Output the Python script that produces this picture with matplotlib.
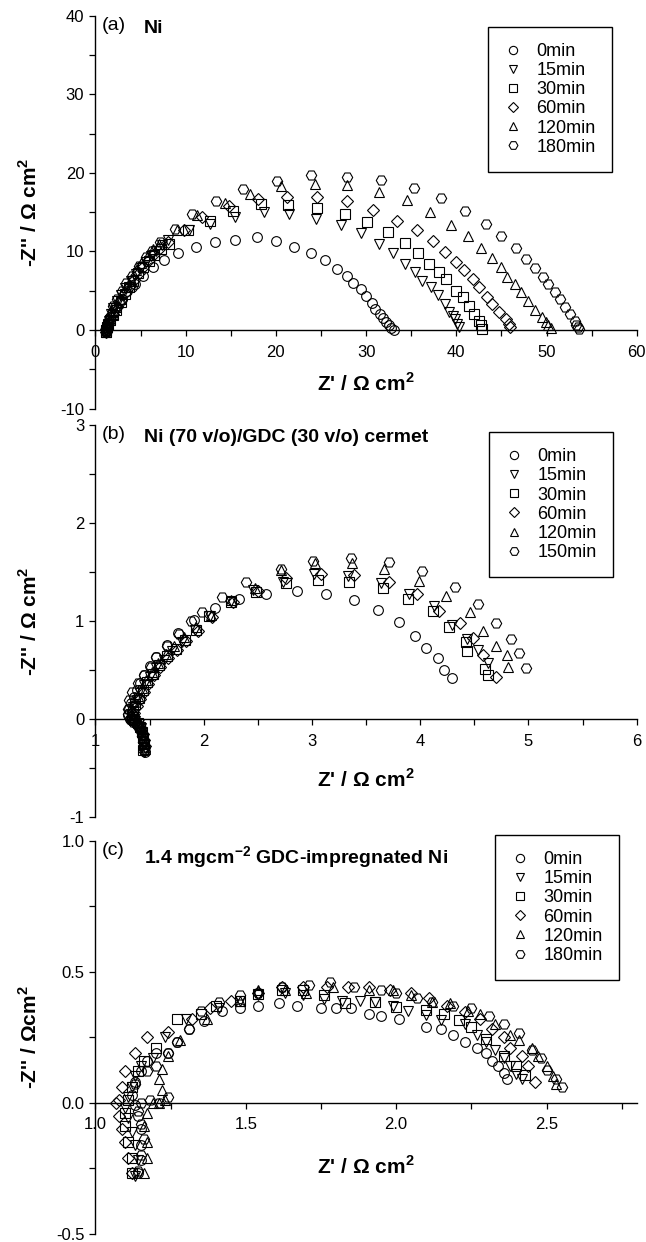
import numpy as np
import matplotlib
matplotlib.use('Agg')
import matplotlib.pyplot as plt
from matplotlib.ticker import MultipleLocator

# ---------------------------------------------------------------------
# data

labels_a = ['0min', '15min', '30min', '60min', '120min', '180min']
labels_b = ['0min', '15min', '30min', '60min', '120min', '150min']
labels_c = ['0min', '15min', '30min', '60min', '120min', '180min']

# (a) Ni
a_x_0 = [1.15, 1.18, 1.2, 1.25, 1.3, 1.4, 1.6, 1.9, 2.2, 2.6, 2.9, 3.5, 4.0, 4.4, 5.3, 6.4, 7.6, 9.2,
         11.2, 13.3, 15.5, 17.9, 20.0, 22.0, 23.9, 25.4, 26.8, 27.9, 28.6, 29.4, 30.0, 30.6, 31.0,
         31.5, 31.9, 32.2, 32.5, 32.8, 33.1]
a_y_0 = [-0.3, -0.1, 0.1, 0.3, 0.55, 0.9, 1.6, 2.3, 2.9, 3.5, 4.0, 5.0, 5.5, 5.9, 6.9, 8.0, 8.85, 9.8,
         10.6, 11.2, 11.5, 11.8, 11.3, 10.6, 9.8, 8.9, 7.8, 6.9, 6.0, 5.2, 4.3, 3.5, 2.7,
         2.0, 1.5, 1.0, 0.6, 0.3, 0.05]
a_x_15 = [1.15, 1.2, 1.25, 1.35, 1.5, 1.7, 2.0, 2.4, 2.8, 3.3, 3.9, 4.5, 5.0, 5.6, 6.2, 6.7, 7.4, 8.1,
          10.4, 12.75, 15.5, 18.7, 21.45, 24.4, 27.2, 29.4, 31.4, 33.0, 34.3, 35.4, 36.2, 37.2, 38.0,
          38.7, 39.2, 39.6, 39.8, 40.1, 40.3]
a_y_15 = [-0.25, 0.0, 0.3, 0.7, 1.2, 2.0, 2.8, 3.7, 4.5, 5.4, 6.3, 7.1, 7.9, 8.6, 9.4, 10.1, 10.8, 11.4,
          12.7, 13.5, 14.4, 15.0, 14.8, 14.15, 13.3, 12.3, 11.0, 9.8, 8.4, 7.36, 6.3, 5.45, 4.4,
          3.3, 2.3, 1.8, 1.4, 0.8, 0.36]
a_x_30 = [1.15, 1.2, 1.3, 1.45, 1.6, 1.9, 2.3, 2.8, 3.25, 3.7, 4.2, 4.7, 5.3, 5.9, 6.5, 7.3, 8.2,
          10.3, 12.75, 15.3, 18.3, 21.4, 24.6, 27.7, 30.1, 32.4, 34.3, 35.8, 37.0, 38.1, 38.9,
          40.0, 40.7, 41.4, 42.0, 42.5, 42.7, 42.9]
a_y_30 = [-0.2, 0.05, 0.4, 0.8, 1.3, 1.9, 2.5, 3.6, 4.6, 5.5, 6.3, 7.2, 8.0, 8.8, 9.5, 10.3, 11.0,
          12.7, 13.9, 15.1, 16.05, 15.85, 15.55, 14.7, 13.7, 12.45, 11.1, 9.8, 8.4, 7.4, 6.5,
          5.0, 4.2, 3.1, 2.06, 1.2, 0.6, 0.15]
a_x_60 = [1.15, 1.2, 1.3, 1.45, 1.65, 1.95, 2.35, 2.8, 3.3, 3.8, 4.3, 4.8, 5.3, 5.9, 6.5, 7.2, 8.0,
          9.8, 11.8, 14.8, 18.05, 21.2, 24.6, 27.9, 30.8, 33.4, 35.6, 37.4, 38.8, 40.0, 40.9, 41.8,
          42.5, 43.4, 44.0, 44.7, 45.5, 45.8, 46.0]
a_y_60 = [-0.2, 0.1, 0.45, 0.9, 1.4, 2.1, 2.9, 3.8, 4.7, 5.6, 6.4, 7.2, 8.0, 8.9, 9.7, 10.5, 11.2,
          12.7, 14.4, 15.8, 16.7, 16.9, 16.9, 16.4, 15.3, 13.9, 12.7, 11.3, 9.9, 8.6, 7.6, 6.5,
          5.45, 4.2, 3.3, 2.3, 1.4, 0.8, 0.36]
a_x_120 = [1.15, 1.2, 1.3, 1.4, 1.6, 1.9, 2.3, 2.8, 3.4, 3.9, 4.5, 5.1, 5.8, 6.4, 7.1, 9.0,
           11.3, 14.4, 17.1, 20.6, 24.3, 27.9, 31.4, 34.5, 37.1, 39.4, 41.3, 42.7, 43.9, 44.9, 45.6,
           46.5, 47.2, 48.0, 48.7, 49.5, 49.9, 50.2, 50.5]
a_y_120 = [-0.25, 0.05, 0.4, 0.8, 1.3, 2.1, 2.9, 3.9, 5.5, 6.5, 7.6, 8.5, 9.5, 10.3, 11.0, 12.7,
           14.6, 16.1, 17.3, 18.3, 18.6, 18.4, 17.5, 16.5, 15.0, 13.4, 11.9, 10.5, 9.2, 8.0, 6.8,
           5.9, 4.8, 3.7, 2.5, 1.6, 1.0, 0.6, 0.3]
a_x_180 = [1.15, 1.2, 1.3, 1.4, 1.6, 1.95, 2.4, 2.9, 3.4, 4.0, 4.8, 5.6, 6.3, 7.16, 8.8, 10.7,
           13.4, 16.4, 20.1, 23.9, 27.9, 31.6, 35.3, 38.3, 41.0, 43.3, 45.0, 46.6, 47.7, 48.7, 49.6,
           50.2, 50.9, 51.5, 52.0, 52.6, 53.1, 53.3, 53.5, 53.6]
a_y_180 = [-0.3, 0.0, 0.5, 1.0, 1.6, 3.1, 4.0, 5.0, 6.0, 6.9, 8.1, 9.3, 10.1, 11.2, 12.8, 14.7,
           16.4, 17.96, 19.0, 19.7, 19.5, 19.1, 18.1, 16.8, 15.1, 13.5, 11.9, 10.4, 9.1, 7.9, 6.7,
           5.9, 4.8, 4.0, 2.9, 2.06, 1.2, 0.7, 0.36, 0.1]

# (b) Ni/GDC cermet
b_x_0 = [1.46, 1.46, 1.45, 1.44, 1.43, 1.41, 1.38, 1.35, 1.32, 1.30, 1.31, 1.33, 1.36, 1.38, 1.41,
         1.45, 1.50, 1.56, 1.66, 1.76, 1.91, 2.10, 2.33, 2.58, 2.86, 3.13, 3.39, 3.61, 3.80, 3.95,
         4.05, 4.16, 4.22, 4.29]
b_y_0 = [-0.33, -0.28, -0.22, -0.16, -0.11, -0.07, -0.04, -0.02, 0.0, 0.04, 0.1, 0.16, 0.23, 0.3,
         0.37, 0.45, 0.54, 0.63, 0.76, 0.88, 1.01, 1.13, 1.22, 1.28, 1.31, 1.28, 1.21, 1.11, 0.99,
         0.85, 0.73, 0.62, 0.50, 0.42]
b_x_15 = [1.45, 1.45, 1.44, 1.43, 1.42, 1.40, 1.37, 1.34, 1.33, 1.35, 1.38, 1.41, 1.45, 1.50, 1.56,
          1.63, 1.71, 1.80, 1.92, 2.06, 2.25, 2.46, 2.73, 3.02, 3.33, 3.64, 3.90, 4.13, 4.29, 4.43,
          4.53, 4.63]
b_y_15 = [-0.32, -0.26, -0.2, -0.14, -0.09, -0.05, -0.02, 0.0, 0.05, 0.12, 0.2, 0.27, 0.35, 0.43,
          0.52, 0.6, 0.69, 0.79, 0.91, 1.05, 1.2, 1.32, 1.40, 1.48, 1.46, 1.39, 1.28, 1.15, 0.96,
          0.82, 0.71, 0.57]
b_x_30 = [1.44, 1.45, 1.44, 1.43, 1.41, 1.39, 1.36, 1.34, 1.35, 1.37, 1.40, 1.44, 1.48, 1.53, 1.59,
          1.66, 1.74, 1.83, 1.93, 2.05, 2.25, 2.48, 2.76, 3.06, 3.34, 3.66, 3.89, 4.12, 4.27, 4.42,
          4.43, 4.60, 4.63]
b_y_30 = [-0.31, -0.25, -0.19, -0.13, -0.08, -0.04, -0.01, 0.02, 0.08, 0.15, 0.22, 0.3, 0.38, 0.46,
          0.55, 0.64, 0.72, 0.81, 0.91, 1.05, 1.19, 1.30, 1.39, 1.42, 1.40, 1.34, 1.23, 1.10, 0.94,
          0.79, 0.69, 0.51, 0.45]
b_x_60 = [1.45, 1.46, 1.45, 1.44, 1.42, 1.40, 1.37, 1.35, 1.36, 1.38, 1.41, 1.45, 1.49, 1.54, 1.60,
          1.67, 1.75, 1.84, 1.95, 2.08, 2.27, 2.50, 2.76, 3.08, 3.39, 3.71, 3.97, 4.17, 4.37, 4.49,
          4.58, 4.70]
b_y_60 = [-0.32, -0.27, -0.21, -0.15, -0.1, -0.06, -0.03, 0.01, 0.06, 0.13, 0.21, 0.28, 0.36, 0.45,
          0.53, 0.62, 0.7, 0.8, 0.9, 1.04, 1.19, 1.31, 1.44, 1.48, 1.47, 1.40, 1.28, 1.10, 0.98,
          0.83, 0.65, 0.43]
b_x_120 = [1.46, 1.45, 1.44, 1.43, 1.41, 1.38, 1.35, 1.33, 1.34, 1.36, 1.39, 1.43, 1.47, 1.52, 1.58,
           1.65, 1.73, 1.82, 1.93, 2.07, 2.25, 2.47, 2.71, 3.03, 3.37, 3.67, 3.99, 4.24, 4.46, 4.58,
           4.70, 4.80, 4.81]
b_y_120 = [-0.3, -0.24, -0.18, -0.12, -0.07, -0.03, 0.0, 0.04, 0.1, 0.17, 0.24, 0.32, 0.4, 0.48,
           0.57, 0.66, 0.75, 0.84, 0.94, 1.06, 1.21, 1.34, 1.52, 1.59, 1.59, 1.53, 1.41, 1.26, 1.09,
           0.90, 0.75, 0.65, 0.53]
b_x_150 = [1.45, 1.44, 1.43, 1.41, 1.38, 1.35, 1.32, 1.30, 1.30, 1.31, 1.34, 1.39, 1.45, 1.51, 1.56,
           1.66, 1.77, 1.88, 1.98, 2.17, 2.39, 2.71, 3.01, 3.36, 3.71, 4.02, 4.32, 4.53, 4.70, 4.84,
           4.91, 4.98]
b_y_150 = [-0.29, -0.23, -0.17, -0.11, -0.06, -0.03, 0.0, 0.05, 0.1, 0.2, 0.28, 0.37, 0.45, 0.53,
           0.63, 0.75, 0.87, 1.0, 1.09, 1.25, 1.40, 1.53, 1.61, 1.64, 1.60, 1.51, 1.35, 1.17, 0.98,
           0.82, 0.67, 0.52]

# (c) GDC-impregnated Ni
c_x_0 = [1.14, 1.15, 1.15, 1.15, 1.14, 1.13, 1.12, 1.13, 1.15, 1.17, 1.20, 1.24, 1.27, 1.31, 1.36,
         1.42, 1.48, 1.54, 1.61, 1.67, 1.75, 1.80, 1.85, 1.91, 1.95, 2.01, 2.10, 2.15, 2.19, 2.23,
         2.27, 2.30, 2.32, 2.34, 2.36, 2.37]
c_y_0 = [-0.27, -0.22, -0.16, -0.1, -0.05, -0.01, 0.03, 0.08, 0.12, 0.16, 0.19, 0.19, 0.23, 0.28,
         0.31, 0.35, 0.36, 0.37, 0.38, 0.37, 0.36, 0.36, 0.36, 0.34, 0.33, 0.32, 0.29, 0.28, 0.26,
         0.23, 0.21, 0.19, 0.16, 0.14, 0.115, 0.09]
c_x_15 = [1.13, 1.14, 1.13, 1.12, 1.11, 1.10, 1.11, 1.12, 1.13, 1.15, 1.19, 1.23, 1.30, 1.41, 1.48,
          1.54, 1.63, 1.69, 1.76, 1.82, 1.88, 1.93, 1.99, 2.04, 2.10, 2.15, 2.23, 2.27, 2.30, 2.33,
          2.36, 2.38, 2.40, 2.42]
c_y_15 = [-0.28, -0.22, -0.16, -0.11, -0.06, -0.02, 0.02, 0.06, 0.1, 0.14, 0.17, 0.25, 0.32, 0.36,
          0.39, 0.41, 0.42, 0.41, 0.395, 0.39, 0.39, 0.385, 0.37, 0.35, 0.335, 0.315, 0.30, 0.26,
          0.23, 0.20, 0.17, 0.14, 0.11, 0.09]
c_x_30 = [1.12, 1.12, 1.11, 1.10, 1.10, 1.11, 1.12, 1.14, 1.16, 1.20, 1.27, 1.35, 1.40, 1.48, 1.54,
          1.62, 1.69, 1.76, 1.83, 1.93, 2.00, 2.10, 2.16, 2.21, 2.25, 2.30, 2.36, 2.40, 2.43]
c_y_30 = [-0.27, -0.21, -0.15, -0.09, -0.04, 0.01, 0.06, 0.12, 0.16, 0.21, 0.32, 0.34, 0.37, 0.39,
          0.415, 0.43, 0.43, 0.41, 0.38, 0.385, 0.364, 0.354, 0.34, 0.315, 0.29, 0.245, 0.18,
          0.14, 0.105]
c_x_60 = [1.12, 1.11, 1.10, 1.09, 1.08, 1.07, 1.08, 1.09, 1.10, 1.13, 1.17, 1.24, 1.32, 1.38, 1.45,
          1.54, 1.62, 1.69, 1.77, 1.84, 1.91, 1.98, 2.05, 2.11, 2.17, 2.23, 2.28, 2.32, 2.36, 2.38,
          2.42, 2.44, 2.46]
c_y_60 = [-0.27, -0.21, -0.15, -0.1, -0.05, 0.0, 0.01, 0.06, 0.12, 0.19, 0.25, 0.27, 0.32, 0.36,
          0.39, 0.42, 0.44, 0.44, 0.44, 0.44, 0.44, 0.43, 0.42, 0.40, 0.37, 0.345, 0.32, 0.28, 0.25,
          0.21, 0.18, 0.14, 0.08]
c_x_120 = [1.16, 1.17, 1.17, 1.16, 1.17, 1.19, 1.21, 1.23, 1.22, 1.21, 1.22, 1.24, 1.28, 1.37, 1.48,
           1.54, 1.63, 1.70, 1.79, 1.91, 1.99, 2.05, 2.12, 2.18, 2.24, 2.28, 2.33, 2.38, 2.41, 2.45,
           2.47, 2.50, 2.52, 2.53]
c_y_120 = [-0.27, -0.21, -0.15, -0.09, -0.04, 0.0, 0.0, 0.01, 0.05, 0.09, 0.13, 0.18, 0.24, 0.32,
           0.39, 0.43, 0.43, 0.42, 0.44, 0.43, 0.43, 0.41, 0.385, 0.38, 0.35, 0.34, 0.30, 0.26,
           0.24, 0.21, 0.18, 0.14, 0.10, 0.07]
c_x_180 = [1.14, 1.15, 1.16, 1.15, 1.14, 1.15, 1.18, 1.21, 1.24, 1.13, 1.17, 1.20, 1.24, 1.27, 1.31,
           1.35, 1.41, 1.48, 1.54, 1.62, 1.71, 1.78, 1.86, 1.95, 2.00, 2.07, 2.12, 2.19, 2.25, 2.31,
           2.36, 2.41, 2.45, 2.48, 2.50, 2.53, 2.55]
c_y_180 = [-0.26, -0.2, -0.14, -0.08, -0.03, 0.0, 0.01, 0.0, 0.02, 0.07, 0.12, 0.14, 0.19, 0.23, 0.28,
           0.35, 0.385, 0.41, 0.42, 0.44, 0.45, 0.46, 0.44, 0.43, 0.42, 0.40, 0.385, 0.37, 0.36,
           0.33, 0.30, 0.265, 0.20, 0.17, 0.125, 0.09, 0.06]

markers = ['o', 'v', 's', 'D', '^', 'H']
msizes  = [7, 7.5, 6.5, 6, 7.5, 7.5]

# ---------------------------------------------------------------------

plt.rcParams['font.family'] = ['Liberation Sans', 'DejaVu Sans']
plt.rcParams['axes.unicode_minus'] = False
plt.rcParams['mathtext.fontset'] = 'custom'
plt.rcParams['mathtext.rm'] = 'Liberation Sans'
plt.rcParams['mathtext.bf'] = 'Liberation Sans:bold'

fig = plt.figure(figsize=(6.46, 12.42), dpi=100)

lab_font = dict(fontweight='bold', fontsize=15)


def panel(rect, xs, ys, labels, xlim, ylim, xmaj, xmin, ymaj, ymin, xfmt, yfmt,
          tag, title, ylab, xlab_y, leg_anchor):
    ax = fig.add_axes(rect)
    for i in range(6):
        ax.plot(xs[i], ys[i], linestyle='none', marker=markers[i], ms=msizes[i],
                mfc='none', mec='black', mew=0.8, label=labels[i])
    ax.set_xlim(xlim)
    ax.set_ylim(ylim)
    ax.spines['top'].set_visible(False)
    ax.spines['right'].set_visible(False)
    ax.spines['bottom'].set_position(('data', 0))
    ax.spines['bottom'].set_linewidth(1.0)
    ax.spines['left'].set_linewidth(1.0)
    ax.xaxis.set_major_locator(MultipleLocator(xmaj))
    ax.xaxis.set_minor_locator(MultipleLocator(xmin))
    ax.yaxis.set_major_locator(MultipleLocator(ymaj))
    ax.yaxis.set_minor_locator(MultipleLocator(ymin))
    ax.xaxis.set_major_formatter(xfmt)
    ax.yaxis.set_major_formatter(yfmt)
    ax.tick_params(which='both', direction='out', length=4.5, width=0.9, labelsize=12)
    ax.tick_params(axis='x', pad=6)

    ax.text(0.012, 0.997, tag, transform=ax.transAxes, ha='left', va='top', fontsize=14)
    ax.text(0.09, 0.99, title, transform=ax.transAxes, ha='left', va='top',
            fontsize=14, fontweight='bold')
    ax.text(0.5, xlab_y, "Z' / Ω cm$^{\\mathbf{2}}$", transform=ax.transAxes,
            ha='center', va='center', **lab_font)
    ax.set_ylabel(ylab, **lab_font)
    ax.yaxis.set_label_coords(-0.1, 0.5)

    leg = ax.legend(loc='upper right', bbox_to_anchor=leg_anchor, borderaxespad=0,
                    fancybox=False, edgecolor='black', framealpha=1, fontsize=13,
                    handlelength=1.0, handletextpad=0.8, labelspacing=0.12,
                    borderpad=0.9, markerscale=0.85)
    leg.get_frame().set_linewidth(1.0)
    return ax


panel([0.1477, 0.671, 0.838, 0.3164],
      [a_x_0, a_x_15, a_x_30, a_x_60, a_x_120, a_x_180],
      [a_y_0, a_y_15, a_y_30, a_y_60, a_y_120, a_y_180],
      labels_a, (0, 60), (-10, 40), 10, 5, 10, 5, '{x:.0f}', '{x:.0f}',
      '(a)', 'Ni', "-Z'' / Ω cm$^{\\mathbf{2}}$", 0.065, (0.954, 0.972))

panel([0.1477, 0.342, 0.838, 0.3159],
      [b_x_0, b_x_15, b_x_30, b_x_60, b_x_120, b_x_150],
      [b_y_0, b_y_15, b_y_30, b_y_60, b_y_120, b_y_150],
      labels_b, (1, 6), (-1, 3), 1, 0.5, 1, 0.5, '{x:.0f}', '{x:.0f}',
      '(b)', 'Ni (70 v/o)/GDC (30 v/o) cermet', "-Z'' / Ω cm$^{\\mathbf{2}}$", 0.095,
      (0.956, 0.982))

panel([0.1477, 0.0067, 0.838, 0.3164],
      [c_x_0, c_x_15, c_x_30, c_x_60, c_x_120, c_x_180],
      [c_y_0, c_y_15, c_y_30, c_y_60, c_y_120, c_y_180],
      labels_c, (1.0, 2.8), (-0.5, 1.0), 0.5, 0.25, 0.5, 0.25, '{x:.1f}', '{x:.1f}',
      '(c)', '1.4 mgcm$^{\\mathbf{-2}}$ GDC-impregnated Ni', "-Z'' / Ωcm$^{\\mathbf{2}}$", 0.17,
      (0.967, 1.015))

fig.savefig('out.png', dpi=100)
